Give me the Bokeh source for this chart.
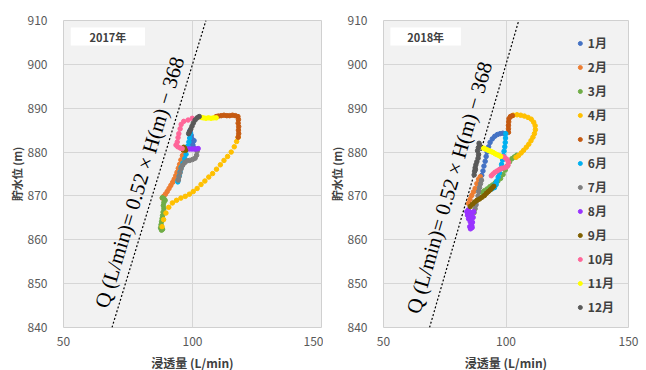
import math
from bokeh.plotting import figure
from bokeh.layouts import row
from bokeh.models import Range1d, Label, BoxAnnotation, Legend, LegendItem
from bokeh.embed import file_html
from bokeh.resources import INLINE

# ---------------- data ----------------
month_labels = ["1月", "2月", "3月", "4月", "5月", "6月", "7月", "8月", "9月", "10月", "11月", "12月"]
month_colors = ["#4472C4", "#ED7D31", "#70AD47", "#FFC000", "#C55A11", "#00B0F0",
                "#7F7F7F", "#9933FF", "#806000", "#FF6699", "#FFFF00", "#595959"]
x_ticks = [50, 100, 150]
y_ticks = [840, 850, 860, 870, 880, 890, 900, 910]

# regression line Q = 0.52 H - 368 (end points)
eq_h = [840, 910]
eq_q = [68.8, 105.2]
eq_text = "Q (L/min)= 0.52 × H(m) − 368"

# ----- 2017 (Q = 浸透量, H = 貯水位) -----
q17_01 = [100.3, 100.1, 99.9, 99.7, 99.5, 99.2, 98.9, 99.6, 100.2, 100.6]
h17_01 = [881.0, 881.7, 882.4, 883.1, 883.8, 884.4, 884.8, 882.0, 881.3, 882.6]
q17_02 = [96.6, 96.1, 95.5, 95.0, 94.5, 94.0, 93.5, 92.9, 92.3, 91.6, 90.9, 90.2, 89.5, 88.8, 88.3]
h17_02 = [880.3, 879.2, 878.2, 877.2, 876.3, 875.4, 874.6, 873.8, 873.1, 872.4, 871.7, 871.0, 870.4, 869.9, 869.5]
q17_03 = [88.3, 88.9, 89.4, 88.9, 88.7, 88.9, 88.6, 88.4, 88.2, 88.0, 87.8, 87.6, 88.0, 88.4]
h17_03 = [869.6, 869.4, 869.0, 868.5, 867.8, 867.1, 866.3, 865.5, 864.8, 864.1, 863.4, 862.7, 862.2, 862.4]
q17_04 = [88.2, 88.8, 89.7, 90.8, 92.2, 93.8, 95.5, 97.2, 98.8, 100.3, 101.8, 103.3,
          104.8, 106.3, 107.8, 109.3, 110.8, 112.2, 113.6, 115.0, 116.2, 117.1, 117.7]
h17_04 = [863.0, 864.6, 866.1, 867.4, 868.4, 869.0, 869.5, 869.9, 870.4, 871.0, 871.7, 872.6,
          873.4, 874.3, 875.1, 876.1, 877.1, 878.1, 879.0, 880.0, 881.2, 882.4, 883.4]
q17_05 = [117.7, 117.9, 117.8, 117.9, 117.7, 117.8, 117.6, 116.6, 115.5, 114.4, 113.3, 112.2, 111.1, 110.0, 109.2]
h17_05 = [883.4, 884.2, 885.0, 885.8, 886.6, 887.4, 888.1, 888.3, 888.4, 888.3, 888.3, 888.4, 888.3, 888.2, 888.1]
q17_06 = [99.2, 98.9, 98.6, 98.2, 97.9, 97.5, 97.0, 96.3, 95.6, 95.2, 94.9, 94.5, 94.3]
h17_06 = [884.2, 883.2, 882.3, 881.4, 880.7, 879.5, 878.5, 877.5, 876.5, 875.5, 874.6, 873.7, 873.2]
q17_07 = [101.8, 101.6, 101.0, 100.0, 98.9, 97.9, 97.0, 96.2, 95.6, 95.2, 94.8, 94.5]
h17_07 = [880.2, 879.3, 878.6, 878.3, 878.1, 878.0, 877.6, 877.0, 876.2, 875.3, 874.4, 873.6]
q17_08 = [97.9, 98.8, 99.7, 100.6, 101.5, 102.2]
h17_08 = [880.7, 880.7, 880.7, 880.7, 880.7, 880.8]
q17_09 = [96.4, 96.9, 97.3, 96.6]
h17_09 = [880.5, 880.9, 880.4, 881.1]
q17_10 = [99.9, 98.3, 96.6, 95.6, 95.2, 94.7, 94.4, 94.1, 93.6, 94.3, 95.3, 96.0]
h17_10 = [887.7, 887.3, 887.0, 886.3, 885.3, 884.2, 883.3, 882.3, 881.6, 881.2, 880.9, 880.8]
q17_11 = [109.2, 108.2, 107.2, 106.2, 105.2, 104.2, 103.4]
h17_11 = [887.8, 887.8, 887.7, 887.8, 887.7, 887.8, 887.9]
q17_12 = [102.6, 101.8, 101.0, 100.3, 99.8, 99.3, 98.8, 98.5]
h17_12 = [888.1, 887.8, 887.3, 886.6, 885.9, 885.2, 884.6, 884.2]

# ----- 2018 -----
q18_01 = [90.1, 90.6, 91.0, 91.5, 91.9, 92.3, 92.9, 93.5, 94.4, 95.4, 96.5, 97.6, 98.7, 99.7]
h18_01 = [874.7, 875.7, 876.8, 877.9, 879.0, 880.0, 881.2, 882.2, 883.0, 883.6, 884.0, 884.2, 884.3, 884.2]
q18_02 = [84.7, 85.3, 86.0, 86.7, 87.4, 88.1, 88.8, 89.5]
h18_02 = [868.3, 869.2, 870.1, 870.9, 871.7, 872.8, 873.8, 874.4]
q18_03 = [104.4, 103.4, 102.4, 101.5, 100.6, 99.7, 98.8, 97.8, 96.7, 95.6, 94.5, 93.4, 92.3, 91.2, 90.3]
h18_03 = [879.3, 878.9, 878.5, 877.8, 876.9, 875.9, 874.9, 874.0, 873.4, 873.0, 872.5, 872.1, 871.6, 871.2, 870.8]
q18_04 = [103.0, 104.5, 106.0, 107.5, 109.0, 110.3, 111.3, 111.9, 112.0, 111.6, 111.0, 110.2,
          109.3, 108.3, 107.2, 106.2, 105.1, 104.1]
h18_04 = [888.4, 888.5, 888.4, 888.2, 887.9, 887.5, 886.8, 886.0, 885.1, 884.2, 883.4, 882.6,
          881.8, 881.1, 880.4, 879.8, 879.2, 878.8]
q18_05 = [101.0, 101.0, 101.0, 101.1, 101.2, 101.8, 102.6]
h18_05 = [884.5, 885.3, 886.1, 886.9, 887.6, 888.1, 888.3]
q18_06 = [99.9, 99.8, 99.7, 99.5, 99.2, 98.9, 98.6, 98.2, 97.8, 97.3, 96.8, 96.2, 95.5, 94.8, 94.2, 95.3, 96.0]
h18_06 = [884.2, 883.2, 882.2, 881.2, 880.2, 879.2, 878.2, 877.2, 876.2, 875.2, 874.3, 873.4, 872.6, 872.0, 871.6, 871.9, 872.6]
q18_07 = [87.0, 87.4, 87.8, 88.2, 88.6, 88.8, 89.2, 89.6, 90.0]
h18_07 = [866.2, 867.1, 868.0, 869.0, 870.0, 871.0, 871.9, 872.8, 873.6]
q18_08 = [84.0, 84.6, 85.3, 86.0, 86.6, 85.6, 84.7, 85.4, 86.3, 86.0, 85.2, 85.5, 86.2, 84.3, 85.0, 86.8]
h18_08 = [866.4, 866.8, 866.3, 865.9, 865.1, 864.8, 864.8, 864.1, 864.0, 863.3, 863.0, 862.5, 862.8, 865.6, 865.5, 866.4]
q18_09 = [85.4, 86.3, 87.2, 88.2, 89.2, 90.2, 91.2, 92.0, 92.8, 93.6, 94.3, 95.0]
h18_09 = [867.6, 868.1, 868.6, 869.0, 869.3, 869.7, 870.1, 870.6, 871.0, 871.4, 871.8, 872.2]
q18_10 = [98.8, 99.6, 100.4, 101.0, 100.8, 100.2, 99.2, 98.2, 97.3, 96.4, 95.5, 94.7, 94.0]
h18_10 = [879.0, 878.7, 878.3, 877.7, 877.0, 876.6, 876.4, 876.3, 876.0, 875.7, 875.4, 875.0, 874.6]
q18_11 = [90.8, 91.6, 92.4, 93.2, 94.0, 94.8, 95.6, 96.4, 97.2, 97.8]
h18_11 = [880.9, 880.7, 880.5, 880.3, 880.1, 879.9, 879.6, 879.4, 879.2, 879.0]
q18_12 = [89.2, 88.7, 88.4, 88.8, 88.6, 88.1, 87.7, 87.4, 87.2, 87.0, 87.5, 89.0]
h18_12 = [881.6, 881.0, 880.3, 879.4, 878.6, 877.8, 877.1, 876.4, 875.6, 874.8, 876.0, 882.0]

q2017 = [q17_01, q17_02, q17_03, q17_04, q17_05, q17_06, q17_07, q17_08, q17_09, q17_10, q17_11, q17_12]
h2017 = [h17_01, h17_02, h17_03, h17_04, h17_05, h17_06, h17_07, h17_08, h17_09, h17_10, h17_11, h17_12]
q2018 = [q18_01, q18_02, q18_03, q18_04, q18_05, q18_06, q18_07, q18_08, q18_09, q18_10, q18_11, q18_12]
h2018 = [h18_01, h18_02, h18_03, h18_04, h18_05, h18_06, h18_07, h18_08, h18_09, h18_10, h18_11, h18_12]

CJK = "Noto Sans CJK JP"


def make_panel(year_text, qs, hs, eq_x, eq_y, eq_angle_deg, fw, b_left, b_right, ylab_standoff, with_legend):
    p = figure(frame_width=fw, frame_height=307, x_range=Range1d(50, 150), y_range=Range1d(840, 910),
               output_backend="svg", toolbar_location=None,
               min_border_left=b_left, min_border_right=b_right,
               min_border_top=20, min_border_bottom=43)
    p.background_fill_color = "#f2f2f2"
    p.border_fill_color = "white"
    p.outline_line_color = "#d0d0d0"
    p.xaxis.ticker = x_ticks
    p.yaxis.ticker = y_ticks
    p.xgrid.grid_line_color = "#d6d6d6"
    p.ygrid.grid_line_color = "#d6d6d6"
    for ax in (p.xaxis[0], p.yaxis[0]):
        ax.axis_line_color = None
        ax.major_tick_line_color = None
        ax.minor_tick_line_color = None
        ax.major_label_text_font = CJK
        ax.major_label_text_font_size = "12px"
        ax.major_label_text_color = "#595959"
        ax.axis_label_text_font = CJK
        ax.axis_label_text_font_style = "bold"
        ax.axis_label_text_color = "#404040"
    p.yaxis.major_label_standoff = 10
    p.xaxis.major_label_standoff = 3
    p.xaxis.axis_label = "浸透量 (L/min)"
    p.xaxis.axis_label_text_font_size = "12px"
    p.xaxis.axis_label_standoff = 5
    p.yaxis.axis_label = "貯水位 (m)"
    p.yaxis.axis_label_text_font_size = "11px"
    p.yaxis.axis_label_standoff = ylab_standoff

    # year box
    p.add_layout(BoxAnnotation(left=52.8, right=81.6, bottom=904.3, top=908.4,
                               fill_color="white", fill_alpha=1.0, line_color=None))
    p.add_layout(Label(x=67.2, y=906.35, text=year_text, text_align="center", text_baseline="middle",
                       text_font=CJK, text_font_size="11px", text_font_style="bold", text_color="#404040"))

    # regression line
    p.line(eq_q, eq_h, line_color="black", line_width=1.2, line_dash="2 2")
    p.add_layout(Label(x=eq_x, y=eq_y, text=eq_text, angle=math.radians(eq_angle_deg),
                       text_align="center", text_baseline="middle",
                       text_font="Liberation Serif", text_font_size="21px", text_color="black"))

    items = []
    for i in range(12):
        r = p.scatter(qs[i], hs[i], size=4.5, marker="circle",
                      fill_color=month_colors[i], line_color=month_colors[i])
        items.append(LegendItem(label=month_labels[i], renderers=[r]))

    if with_legend:
        leg = Legend(items=items, location="top_right", padding=0, margin=14, spacing=7,
                     glyph_width=10, glyph_height=12, label_height=12, label_standoff=3,
                     label_text_font=CJK, label_text_font_size="12px", label_text_font_style="bold",
                     label_text_color="#404040",
                     background_fill_alpha=0, border_line_color=None)
        p.add_layout(leg)
    return p


p1 = make_panel("2017年", q2017, h2017, 79.5, 873.1, 73.0, 258, 63, 2, 0, False)
p2 = make_panel("2018年", q2018, h2018, 76.9, 871.9, 73.8, 245, 60, 16, 0, True)

layout = row(p1, p2)
open("out.html", "w").write(file_html(layout, INLINE))
